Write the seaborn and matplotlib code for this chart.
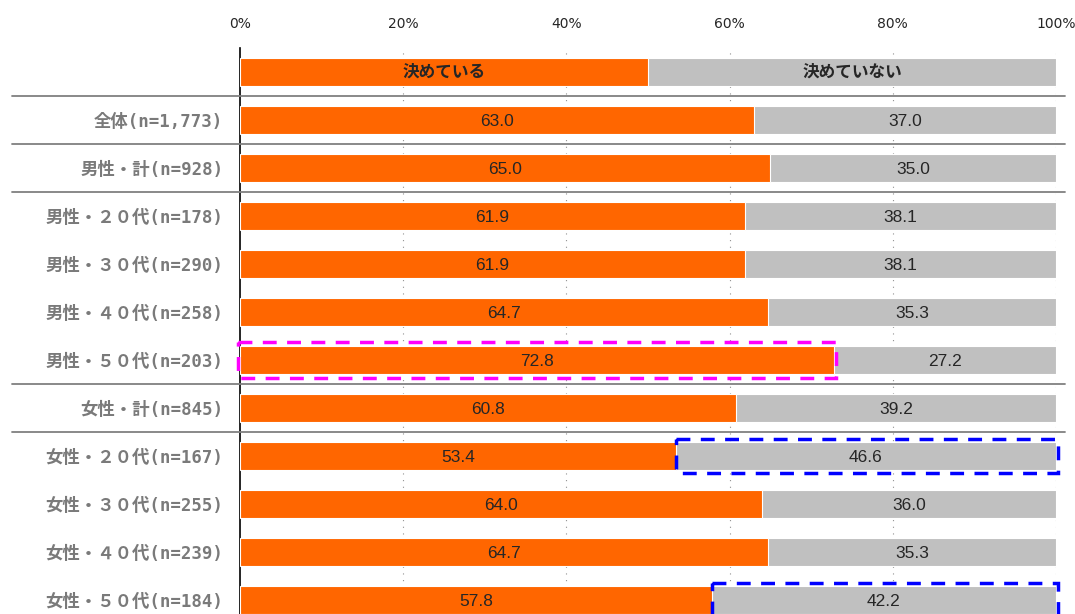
import pandas as pd
import matplotlib
matplotlib.use("Agg")
import matplotlib.pyplot as plt
from matplotlib.patches import Rectangle
import seaborn as sns

sns.set_style("white")
plt.rcParams["font.family"] = ["Noto Sans CJK JP", "DejaVu Sans"]

# ===============================
# DATOS
# ===============================
legend_labels = ["決めている", "決めていない"]
groups = [
    "全体(n=1,773)",
    "男性・計(n=928)",
    "男性・２０代(n=178)",
    "男性・３０代(n=290)",
    "男性・４０代(n=258)",
    "男性・５０代(n=203)",
    "女性・計(n=845)",
    "女性・２０代(n=167)",
    "女性・３０代(n=255)",
    "女性・４０代(n=239)",
    "女性・５０代(n=184)",
]
decided = [63.0, 65.0, 61.9, 61.9, 64.7, 72.8, 60.8, 53.4, 64.0, 64.7, 57.8]
not_decided = [37.0, 35.0, 38.1, 38.1, 35.3, 27.2, 39.2, 46.6, 36.0, 35.3, 42.2]
legend_share = [50, 50]
x_ticks = [0, 20, 40, 60, 80, 100]

# grupos destacados
pink_rows = ["男性・５０代(n=203)"]
blue_rows = ["女性・２０代(n=167)", "女性・５０代(n=184)"]
separators_after = [0, 1, 2, 6, 7]   # índice de fila (0 = leyenda)

ORANGE = "#FF6600"
GREY = "#C0C0C0"
LABEL_FONT = ["DejaVu Sans Mono", "Noto Sans CJK JP"]
VALUE_FONT = ["Liberation Sans", "DejaVu Sans"]

rows = [""] + groups
df = pd.DataFrame({
    "grupo": rows,
    "si": [legend_share[0]] + decided,
    "total": [legend_share[0] + legend_share[1]] + [a + b for a, b in zip(decided, not_decided)],
})

fig = plt.figure(figsize=(10.75, 6.14), dpi=100)
ax = fig.add_axes([240 / 1075, 0, 816 / 1075, 1 - 48 / 614])

bw = 0.58
sns.barplot(data=df, x="total", y="grupo", order=rows, color=GREY,
            width=bw, edgecolor="white", linewidth=0.8, saturation=1, ax=ax, zorder=2)
sns.barplot(data=df, x="si", y="grupo", order=rows, color=ORANGE,
            width=bw, edgecolor="white", linewidth=0.8, saturation=1, ax=ax, zorder=3)

ax.set_xlabel("")
ax.set_ylabel("")

# eje x arriba
ax.xaxis.tick_top()
ax.set_xticks(x_ticks)
ax.set_xticklabels([f"{t}%" for t in x_ticks], fontsize=10, family=["DejaVu Sans"])
ax.tick_params(axis="x", length=0, pad=12)
for t in x_ticks[1:]:
    ax.axvline(t, color="#909090", lw=0.8, ls=(0, (1, 5)), zorder=1)

# etiquetas de grupos
ax.set_yticks(range(len(rows)))
ax.set_yticklabels(rows, fontsize=12.5, fontweight="bold", color="#7A7A7A", family=LABEL_FONT)
ax.tick_params(axis="y", length=0, pad=12)
ax.set_yticks([i + 0.5 for i in range(-1, len(rows))], minor=True)
ax.tick_params(axis="y", which="minor", direction="in", length=4, width=1, color="black")

# límites después de los ticks (set_yticks amplía la vista)
ax.set_xlim(0, 100)
ax.set_ylim((614 - 72) / 48, -0.5)

for s in ["top", "right", "bottom"]:
    ax.spines[s].set_visible(False)
ax.spines["left"].set_color("black")
ax.spines["left"].set_linewidth(1.2)

# separadores
for i in separators_after:
    ax.plot([-0.279, 1.011], [i + 0.5, i + 0.5], color="#808080", lw=1.3,
            transform=ax.get_yaxis_transform(), clip_on=False, zorder=4)

# leyenda en la primera fila
ax.text(legend_share[0] / 2, 0, legend_labels[0], ha="center", va="center",
        fontsize=12, fontweight="bold", zorder=5)
ax.text(legend_share[0] + legend_share[1] / 2, 0, legend_labels[1], ha="center",
        va="center", fontsize=12, fontweight="bold", zorder=5)

# valores
for i, (a, b) in enumerate(zip(decided, not_decided), start=1):
    ax.text(a / 2, i + 0.03, f"{a:.1f}", ha="center", va="center", fontsize=12.5,
            family=VALUE_FONT, zorder=5)
    ax.text(a + b / 2, i + 0.03, f"{b:.1f}", ha="center", va="center", fontsize=12.5,
            family=VALUE_FONT, zorder=5)

# marcos destacados
for g in pink_rows:
    i = rows.index(g)
    v = decided[i - 1]
    ax.add_patch(Rectangle((-0.2, i - 0.37), v + 0.4, 0.74, fill=False,
                           edgecolor="#FF00FF", lw=2.5, ls=(0, (4, 3)),
                           clip_on=False, zorder=6))
for g in blue_rows:
    i = rows.index(g)
    a, b = decided[i - 1], not_decided[i - 1]
    ax.add_patch(Rectangle((a, i - 0.36), b + 0.2, 0.72, fill=False,
                           edgecolor="#0000FF", lw=2.5, ls=(0, (4, 3)),
                           clip_on=False, zorder=6))

plt.savefig("out.png", dpi=100)
plt.close()
